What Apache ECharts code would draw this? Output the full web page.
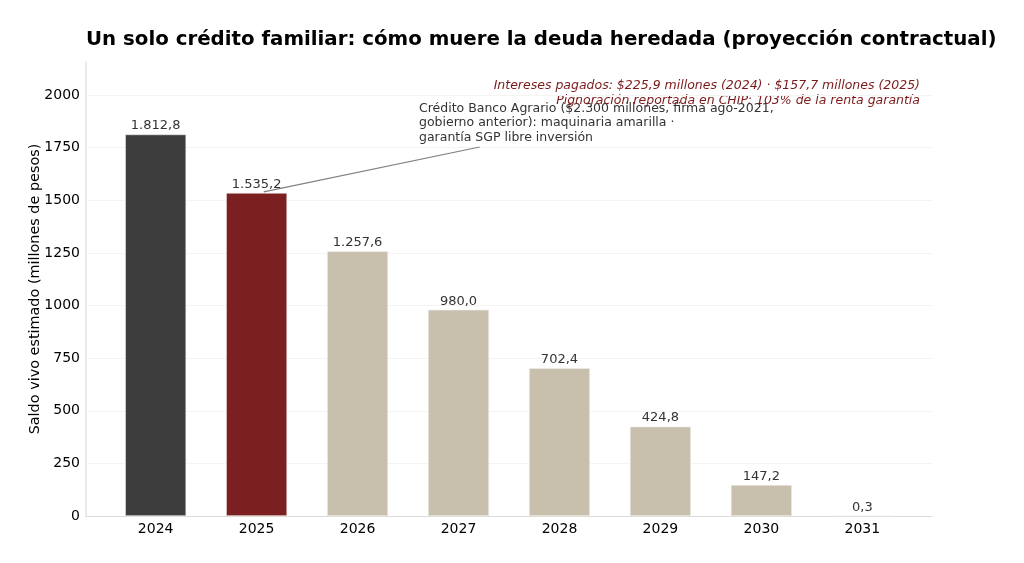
<!DOCTYPE html>
<html><head><meta charset="utf-8">
<script src="https://cdn.jsdelivr.net/npm/echarts@6/dist/echarts.min.js"></script>
<style>html,body{margin:0;padding:0;background:#fff}#c{width:1024px;height:563px}</style>
</head><body><div id="c"></div>
<script>
const years = ['2024','2025','2026','2027','2028','2029','2030','2031'];
const saldo = [1812.8, 1535.2, 1257.6, 980.0, 702.4, 424.8, 147.2, 0.3];
const yTicks = [0, 250, 500, 750, 1000, 1250, 1500, 1750, 2000];
const xTicks = [0, 1, 2, 3, 4, 5, 6, 7];

function fmt(v){
  const s = v.toFixed(1).split('.');
  return s[0].replace(/\B(?=(\d{3})+(?!\d))/g, '.') + ',' + s[1];
}
const FONT = 'DejaVu Sans';
const chart = echarts.init(document.getElementById('c'), null, {renderer:'canvas'});
chart.setOption({
  animation:false,
  backgroundColor:'#fff',
  textStyle:{fontFamily:FONT},
  title:{
    text:'Un solo crédito familiar: cómo muere la deuda heredada (proyección contractual)',
    left:86, top:30, padding:0,
    textStyle:{fontFamily:FONT, fontSize:19.8, fontWeight:'bold', color:'#000'}
  },
  grid:{left:86, right:92, top:62, bottom:47},
  xAxis:{
    type:'value', min:-0.69, max:7.69,
    axisLine:{show:true, onZero:false, lineStyle:{color:'#dcdcd4', width:1}},
    axisTick:{show:false},
    splitLine:{show:false},
    axisLabel:{customValues:xTicks, formatter:v=>years[Math.round(v)] || '', color:'#000', fontSize:14, margin:6, fontFamily:FONT}
  },
  yAxis:{
    type:'value', min:0, max:2157,
    name:'Saldo vivo estimado (millones de pesos)', nameLocation:'middle', nameGap:44, nameMoveOverlap:false,
    nameTextStyle:{fontSize:14.4, color:'#000', fontFamily:FONT},
    axisLine:{show:true, onZero:false, lineStyle:{color:'#e6e4dc', width:1.5}},
    axisTick:{show:false, customValues:yTicks},
    splitLine:{show:true, lineStyle:{color:'#f4f4f4', width:1}},
    axisLabel:{customValues:yTicks, formatter:v=>String(v), color:'#000', fontSize:14, margin:6, fontFamily:FONT}
  },
  series:[{
    type:'bar',
    data:saldo.map((v,i)=>[xTicks[i], v]),
    barWidth:61,
    itemStyle:{
      color:p=> p.dataIndex===0 ? '#3d3d3d' : (p.dataIndex===1 ? '#7b1f20' : '#c9bfad'),
      borderColor:'#f0f0f0', borderWidth:0.6
    },
    label:{show:true, position:'top', distance:2, formatter:p=>fmt(p.value[1]), color:'#333', fontSize:13, fontFamily:FONT},
    markLine:{
      silent:true, animation:false,
      symbol:['none','arrow'], symbolSize:[0,8],
      lineStyle:{color:'#808080', width:1.2, type:'solid'},
      label:{show:false},
      data:[[{coord:[3.21,1753]},{coord:[1.07,1540]}]]
    }
  }],
  graphic:[
    {type:'text', left:419, top:101, style:{
      text:'Crédito Banco Agrario ($2.300 millones, firma ago-2021,\ngobierno anterior): maquinaria amarilla ·\ngarantía SGP libre inversión',
      fill:'#333', font:'12.5px "DejaVu Sans"', lineHeight:14.8
    }},
    {type:'text', right:104, top:79, style:{
      text:'Intereses pagados: $225,9 millones (2024) · $157,7 millones (2025)',
      fill:'#7b1a1a', font:'italic 12.5px "DejaVu Sans"'
    }},
    {type:'text', right:104, top:94, style:{
      text:'Pignoración reportada en CHIP: 103% de la renta garantía',
      fill:'#7b1a1a', font:'italic 12.5px "DejaVu Sans"'
    }}
  ]
});
</script></body></html>
